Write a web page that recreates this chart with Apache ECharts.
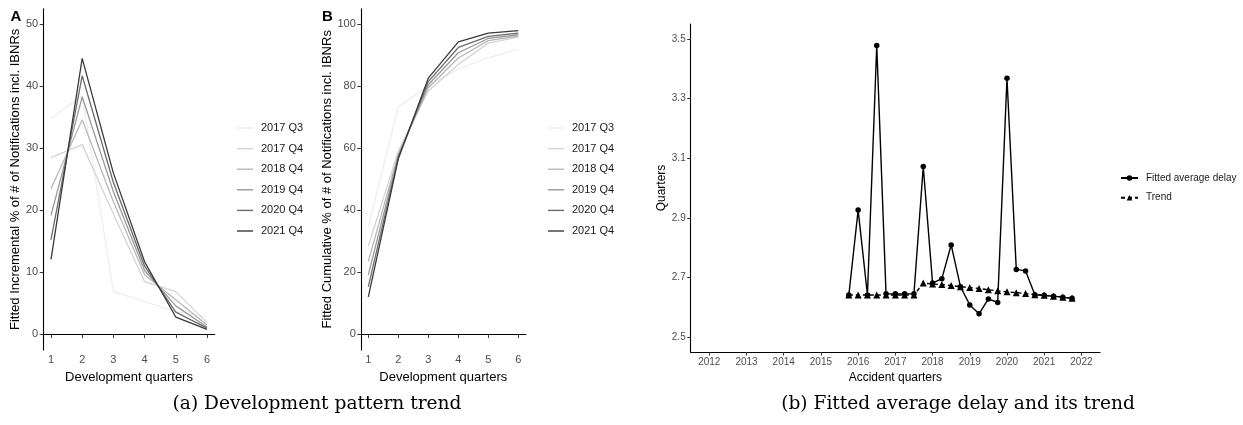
<!DOCTYPE html>
<html>
<head>
<meta charset="utf-8">
<script src="https://cdn.jsdelivr.net/npm/echarts@6/dist/echarts.min.js"></script>
<style>
html,body{margin:0;padding:0;background:#fff;}
#c{width:1243px;height:425px;}
</style>
</head>
<body>
<div id="c"></div>
<script>
// ---------- data ----------
const devQuarters = [1, 2, 3, 4, 5, 6];
const cohorts = ['2017 Q3', '2017 Q4', '2018 Q4', '2019 Q4', '2020 Q4', '2021 Q4'];

// Panel A: fitted incremental %
const incr2017Q3 = [34.8, 38.5, 6.9, 5.3, 3.7, 2.8];
const incr2017Q4 = [28.5, 30.6, 19.4, 8.5, 6.9, 1.9];
const incr2018Q4 = [23.5, 34.6, 21.4, 9.6, 5.6, 1.5];
const incr2019Q4 = [19.2, 38.3, 23.0, 10.3, 4.6, 1.2];
const incr2020Q4 = [15.3, 41.7, 24.5, 11.0, 3.6, 1.0];
const incr2021Q4 = [12.1, 44.5, 26.0, 11.7, 2.8, 0.8];

// Panel B: fitted cumulative %
const cum2017Q3 = [34.8, 73.3, 80.2, 85.5, 89.2, 92.0];
const cum2017Q4 = [28.5, 59.1, 78.5, 87.0, 93.9, 95.8];
const cum2018Q4 = [23.5, 58.1, 79.5, 89.1, 94.7, 96.2];
const cum2019Q4 = [19.2, 57.5, 80.5, 90.8, 95.4, 96.6];
const cum2020Q4 = [15.3, 57.0, 81.5, 92.5, 96.1, 97.1];
const cum2021Q4 = [12.1, 56.6, 82.6, 94.3, 97.1, 97.9];

const devTicksA = [0, 10, 20, 30, 40, 50];
const devTicksB = [0, 20, 40, 60, 80, 100];

// Panel (b): fitted average delay and trend
const accidentQuarters = [2015.75, 2016, 2016.25, 2016.5, 2016.75, 2017, 2017.25, 2017.5,
  2017.75, 2018, 2018.25, 2018.5, 2018.75, 2019, 2019.25, 2019.5, 2019.75,
  2020, 2020.25, 2020.5, 2020.75, 2021, 2021.25, 2021.5, 2021.75];
const fittedDelay = [2.641, 2.926, 2.641, 3.478, 2.645, 2.645, 2.645, 2.645,
  3.072, 2.681, 2.696, 2.809, 2.669, 2.608, 2.578, 2.628, 2.616,
  3.368, 2.727, 2.722, 2.642, 2.640, 2.637, 2.634, 2.630];
const trendDelay = [2.641, 2.641, 2.641, 2.641, 2.641, 2.641, 2.641, 2.641,
  2.681, 2.678, 2.676, 2.673, 2.669, 2.666, 2.663, 2.659, 2.655,
  2.652, 2.649, 2.646, 2.642, 2.640, 2.637, 2.634, 2.630];
const yearTicks = [2012, 2013, 2014, 2015, 2016, 2017, 2018, 2019, 2020, 2021, 2022];
const delayTicks = [2.5, 2.7, 2.9, 3.1, 3.3, 3.5];

// ---------- build ----------
const incrSets = [incr2017Q3, incr2017Q4, incr2018Q4, incr2019Q4, incr2020Q4, incr2021Q4];
const cumSets = [cum2017Q3, cum2017Q4, cum2018Q4, cum2019Q4, cum2020Q4, cum2021Q4];
const greys = ['#eeeeee', '#d4d4d4', '#b8b8b8', '#999999', '#6b6b6b', '#3a3a3a'];

const FONT = "'Liberation Sans', Arial, sans-serif";
const tickCol = '#4d4d4d';

function pairs(xs, ys) { return xs.map((x, i) => [x, ys[i]]); }

function xAxisDev(idx) {
  return {
    type: 'value', gridIndex: idx, min: 0.75, max: 6.25,
    name: 'Development quarters', nameLocation: 'middle', nameGap: 18,
    nameTextStyle: { fontFamily: FONT, fontSize: 13, color: '#000' },
    axisLine: { lineStyle: { color: '#000', width: 1.1 } },
    axisTick: { show: true, length: 3.5, lineStyle: { color: '#333' }, customValues: devQuarters },
    axisLabel: { fontFamily: FONT, fontSize: 11, color: tickCol, margin: 5, customValues: devQuarters },
    splitLine: { show: false }
  };
}
function yAxisDev(idx, name, min, max, ticks, gap) {
  return {
    type: 'value', gridIndex: idx, min: min, max: max,
    name: name, nameLocation: 'middle', nameRotate: 90, nameGap: gap,
    nameTextStyle: { fontFamily: FONT, fontSize: 13, color: '#000' },
    axisLine: { show: true, lineStyle: { color: '#000', width: 1.1 } },
    axisTick: { show: true, length: 3.5, lineStyle: { color: '#333' }, customValues: ticks },
    axisLabel: { fontFamily: FONT, fontSize: 11, color: tickCol, margin: 5, customValues: ticks },
    splitLine: { show: false }
  };
}

const series = [];
cohorts.forEach((c, i) => {
  series.push({
    type: 'line', name: c, xAxisIndex: 0, yAxisIndex: 0,
    data: pairs(devQuarters, incrSets[i]), symbol: 'none',
    lineStyle: { color: greys[i], width: 1.3 }, itemStyle: { color: greys[i] },
    z: 2 + i
  });
});
cohorts.forEach((c, i) => {
  series.push({
    type: 'line', name: c, xAxisIndex: 1, yAxisIndex: 1,
    data: pairs(devQuarters, cumSets[i]), symbol: 'none',
    lineStyle: { color: greys[i], width: 1.3 }, itemStyle: { color: greys[i] },
    z: 2 + i
  });
});
series.push({
  type: 'line', name: 'Trend', xAxisIndex: 2, yAxisIndex: 2,
  data: pairs(accidentQuarters, trendDelay), symbol: 'triangle', symbolSize: 7,
  lineStyle: { color: '#000', width: 1.4, type: [4, 3] }, itemStyle: { color: '#000' }, z: 3
});
series.push({
  type: 'line', name: 'Fitted average delay', xAxisIndex: 2, yAxisIndex: 2,
  data: pairs(accidentQuarters, fittedDelay), symbol: 'circle', symbolSize: 5.5,
  lineStyle: { color: '#000', width: 1.4 }, itemStyle: { color: '#000' }, z: 4
});

const legendBase = {
  orient: 'vertical', itemWidth: 16, itemHeight: 1.4, itemGap: 6.6, icon: 'rect',
  textStyle: { fontFamily: FONT, fontSize: 11, color: '#1a1a1a', lineHeight: 14, padding: [0, 0, 0, 3] },
  selectedMode: false, padding: 0
};

const option = {
  animation: false,
  backgroundColor: '#ffffff',
  grid: [
    { left: 43.2, top: 8.8, width: 171.6, height: 341.1, outerBoundsMode: 'none' },
    { left: 360.8, top: 8.7, width: 165, height: 341.2, outerBoundsMode: 'none' },
    { left: 690.7, top: 24, width: 409.3, height: 328, outerBoundsMode: 'none' }
  ],
  xAxis: [
    xAxisDev(0),
    xAxisDev(1),
    {
      type: 'value', gridIndex: 2, min: 2011.5, max: 2022.5,
      name: 'Accident quarters', nameLocation: 'middle', nameGap: 17,
      nameTextStyle: { fontFamily: FONT, fontSize: 12, color: '#000' },
      axisLine: { lineStyle: { color: '#000', width: 1.1 } },
      axisTick: { show: true, length: 3.5, lineStyle: { color: '#333' }, customValues: yearTicks },
      axisLabel: { fontFamily: FONT, fontSize: 10, color: tickCol, margin: 5, customValues: yearTicks,
        formatter: v => String(Math.round(v)) },
      splitLine: { show: false }
    }
  ],
  yAxis: [
    yAxisDev(0, 'Fitted Incremental % of # of Notifications incl. IBNRs', -2.5, 52.5, devTicksA, 20.5),
    yAxisDev(1, 'Fitted Cumulative % of # of Notifications incl. IBNRs', -5, 105, devTicksB, 26.5),
    {
      type: 'value', gridIndex: 2, min: 2.45, max: 3.55,
      name: 'Quarters', nameLocation: 'middle', nameRotate: 90, nameGap: 22.5,
      nameTextStyle: { fontFamily: FONT, fontSize: 12, color: '#000' },
      axisLine: { show: true, lineStyle: { color: '#000', width: 1.1 } },
      axisTick: { show: true, length: 3.5, lineStyle: { color: '#333' }, customValues: delayTicks },
      axisLabel: { fontFamily: FONT, fontSize: 10, color: tickCol, margin: 5, customValues: delayTicks,
        formatter: v => v.toFixed(1) },
      splitLine: { show: false }
    }
  ],
  legend: [
    Object.assign({}, legendBase, { left: 237, top: 121, data: cohorts }),
    Object.assign({}, legendBase, { left: 548, top: 121, data: cohorts }),
    {
      orient: 'vertical', left: 1120, top: 172, itemWidth: 17, itemHeight: 7, itemGap: 7.7,
      textStyle: { fontFamily: FONT, fontSize: 10, color: '#1a1a1a', lineHeight: 12, padding: [0, 0, 0, 3] },
      selectedMode: false, padding: 0,
      data: ['Fitted average delay', 'Trend']
    }
  ],
  graphic: [
    { type: 'text', style: { text: 'A', x: 10.5, y: 9, font: "bold 15px 'Liberation Sans', Arial, sans-serif", fill: '#000' } },
    { type: 'text', style: { text: 'B', x: 322, y: 9, font: "bold 15px 'Liberation Sans', Arial, sans-serif", fill: '#000' } },
    { type: 'text', style: { text: '(a) Development pattern trend', x: 317, y: 404, textAlign: 'center', textVerticalAlign: 'middle',
      font: "18.6px 'DejaVu Serif', 'Liberation Serif', serif", fill: '#000' } },
    { type: 'text', style: { text: '(b) Fitted average delay and its trend', x: 958, y: 404, textAlign: 'center', textVerticalAlign: 'middle',
      font: "18.6px 'DejaVu Serif', 'Liberation Serif', serif", fill: '#000' } }
  ],
  series: series
};

const chart = echarts.init(document.getElementById('c'), null, { renderer: 'canvas' });
chart.setOption(option);
</script>
</body>
</html>
